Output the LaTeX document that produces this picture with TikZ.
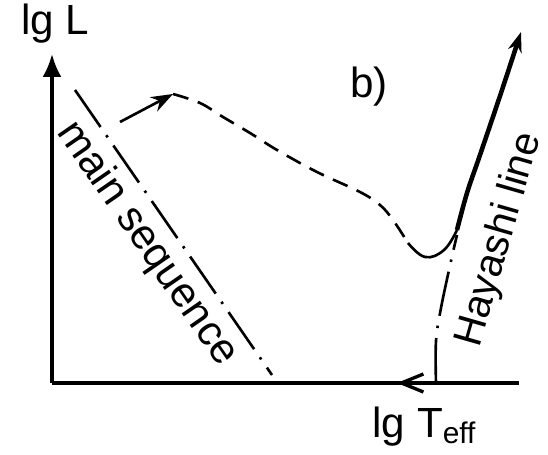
\documentclass[tikz,border=0pt]{standalone}
\usepackage{fontspec}
\setmainfont{Liberation Sans}
\usepackage{tikz}
\usetikzlibrary{arrows.meta}

\begin{document}
\begin{tikzpicture}[
  axis/.style={line width=1.9pt},
  dashdot/.style={line width=1.5pt, dash pattern=on 0.9cm off 0.2cm on 0.05cm off 0.2cm},
  trackdash/.style={line width=1.5pt, dash pattern=on 0.32cm off 0.2cm},
  track/.style={line width=1.5pt},
  trackthick/.style={line width=2.6pt},
  lbl/.style={font=\fontsize{24}{28}\selectfont, inner sep=0pt},
]
\useasboundingbox (0,0) rectangle (10.96,9.10);

%% axes
\coordinate (O) at (1.04,1.44);
\coordinate (ytop) at (1.04,8.02);
\coordinate (xend) at (10.38,1.44);
\coordinate (xmark) at (7.94,1.44);
\coordinate (hbot) at (8.72,1.44);
\draw[axis, -{Latex[length=4.6mm,width=3.8mm]}] (O) -- (ytop);
\draw[axis] (O) -- (xend);
\draw[axis, -{Straight Barb[length=4.4mm,width=3.6mm]}] (hbot) -- (xmark);
\node[lbl] (lgL) at (1.10,8.62) {lg L};
\node[lbl] (lgT) at (8.48,0.56) {lg T\raisebox{-0.25ex}{\fontsize{17}{17}\selectfont eff}};
\node[lbl] (panel) at (7.38,7.36) {b)};

%% main sequence
\coordinate (ms1) at (1.50,7.30);
\coordinate (ms2) at (5.44,1.60);
\draw[dashdot] (ms1) -- (ms2);
\node[lbl, rotate=-55.3] (mslabel) at (2.94,4.22) {main sequence};

%% Hayashi line
\draw[dashdot] plot[smooth, tension=0.6] coordinates
  {(hbot) (8.72,2.28) (8.82,2.94) (9.02,3.88) (9.14,4.40)};
\node[lbl, font=\fontsize{23}{27}\selectfont, rotate=74] (hlabel) at (10.00,4.30) {Hayashi line};

%% evolutionary track
\coordinate (tstart) at (2.40,6.66);
\coordinate (tpeak) at (3.46,7.22);
\coordinate (tdash) at (8.16,4.24);
\coordinate (tjoin) at (9.14,4.50);
\coordinate (ttop) at (10.42,8.46);
\draw[track, -{Stealth[length=4.4mm,width=3.2mm]}] (tstart) -- (tpeak);
\draw[trackdash] plot[smooth, tension=0.6] coordinates
  {(tpeak) (4.00,7.04) (4.46,6.76) (5.00,6.44) (5.54,6.10) (6.34,5.66)
   (7.20,5.26) (7.60,5.00) (7.86,4.70) (tdash)};
\draw[track] plot[smooth, tension=0.7] coordinates
  {(tdash) (8.50,3.96) (8.88,4.10) (tjoin)};
\draw[trackthick, -{Stealth[length=4mm,width=2.8mm]}] plot[smooth, tension=0.6] coordinates
  {(tjoin) (9.34,5.24) (9.60,6.00) (10.02,7.24) (ttop)};

\end{tikzpicture}
\end{document}
